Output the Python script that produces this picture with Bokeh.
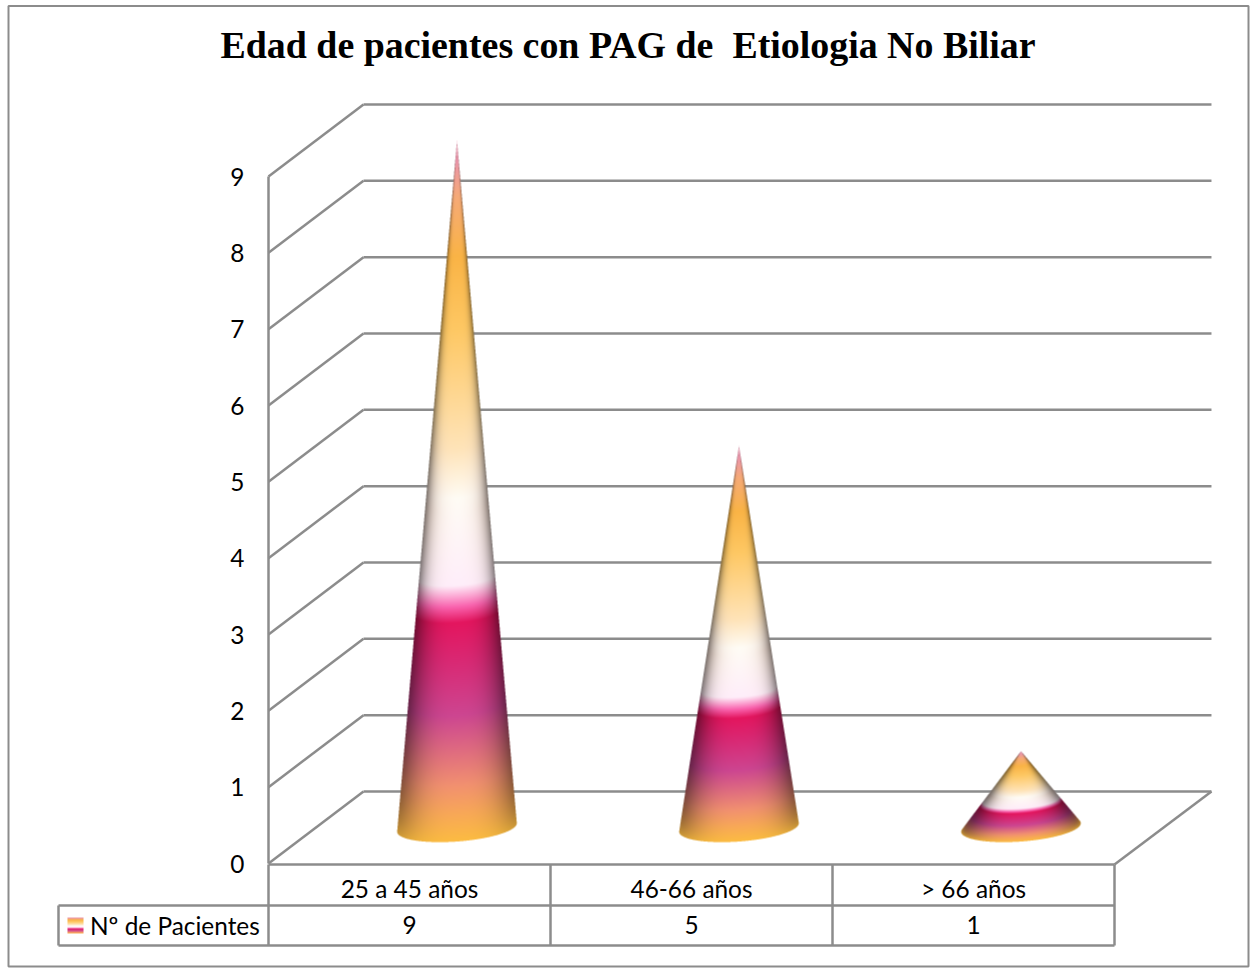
import numpy as np
from bokeh.plotting import figure
from bokeh.models import LinearAxis, FixedTicker, Range1d
from bokeh.core.properties import value
from bokeh.embed import file_html
from bokeh.resources import INLINE

TITLE = "Edad de pacientes con PAG de \u00a0Etiologia No Biliar"
CATEGORIES = ["25 a 45 años", "46-66 años", "> 66 años"]
PATIENTS = [9, 5, 1]
SERIES_NAME = "Nº de Pacientes"
Y_TICKS = list(range(10))

GRAY = "#8c8c8c"
LABEL_FONT = "Lato"
LABEL_SIZE = "24.4px"

W, H = 1259, 968
X0, Y0 = 268.0, 863.0      # page pixel of data (0, 0)
XS, YS = 282.0, 76.33      # pixels per category / per patient
DX, DY = 95.0 / XS, 72.0 / YS   # depth of the 3D box, data units
ROW1, ROW2 = (905.0 - Y0) / -YS, (945.0 - Y0) / -YS
FLOOR = (864.0 - Y0) / -YS

p = figure(width=W, height=H, output_backend="svg", toolbar_location=None,
           x_axis_type=None, y_axis_type=None,
           x_range=Range1d(-X0 / XS, (W - X0) / XS),
           y_range=Range1d((Y0 - H) / YS, Y0 / YS),
           min_border=0)
p.grid.visible = False
p.outline_line_color = None
p.background_fill_color = "white"

def xd(px): return (px - X0) / XS
def yd(py): return (Y0 - py) / YS

LW = 2.5
# outer chart border
p.quad(left=[xd(8)], right=[xd(1248)], top=[yd(5.5)], bottom=[yd(966)],
       fill_color=None, line_color=GRAY, line_width=2)

# walls of the 3D box
n_cat = len(CATEGORIES)
ys = np.array(Y_TICKS, dtype=float)
p.segment(x0=[0.0] * len(ys), y0=ys, x1=[DX] * len(ys), y1=ys + DY,
          line_color=GRAY, line_width=LW)
p.segment(x0=[DX] * len(ys), y0=ys + DY, x1=[n_cat + DX + .007] * len(ys), y1=ys + DY,
          line_color=GRAY, line_width=LW)
# floor right edge
p.segment(x0=[n_cat], y0=[FLOOR], x1=[n_cat + DX + .007], y1=[DY],
          line_color=GRAY, line_width=LW)

# data table rules
p.segment(x0=[i for i in range(n_cat + 1)], y0=[FLOOR] * (n_cat + 1),
          x1=[i for i in range(n_cat + 1)], y1=[ROW2] * (n_cat + 1),
          line_color=GRAY, line_width=LW)
p.segment(x0=[xd(58), xd(58)], y0=[ROW1, ROW2], x1=[n_cat, n_cat], y1=[ROW1, ROW2],
          line_color=GRAY, line_width=LW)
p.segment(x0=[xd(58)], y0=[ROW1], x1=[xd(58)], y1=[ROW2], line_color=GRAY, line_width=LW)

# cone gradient, base (0) to tip (1)
STOPS = [
    (0.00, (252, 188, 66)), (0.04, (248, 168, 88)), (0.08, (242, 145, 112)),
    (0.18, (205, 70, 145)), (0.26, (218, 40, 115)), (0.312, (228, 22, 95)),
    (0.335, (250, 100, 175)), (0.365, (255, 238, 250)), (0.49, (255, 252, 245)),
    (0.56, (255, 228, 185)), (0.73, (254, 200, 100)), (0.834, (250, 180, 70)),
    (0.92, (246, 170, 120)), (0.97, (236, 150, 170)), (1.00, (240, 175, 195)),
]
ST = np.array([s[0] for s in STOPS])
SC = np.array([s[1] for s in STOPS], dtype=float)

def grad(t):
    return np.stack([np.interp(t, ST, SC[:, k]) for k in range(3)], axis=-1)

A_SEMI, B_SEMI, TILT = 60.0, 14.0, np.deg2rad(-4.3)
SS = 3

def cone_image(v, i):
    cx = X0 + (i + 0.5 + DX / 2) * XS
    cy = Y0 - (DY / 2) * YS
    ax, ay = cx, cy - v * YS
    x_left, x_right = int(cx - 68), int(cx + 68)
    y_top, y_bot = int(ay - 3), int(cy + 20)
    w, h = x_right - x_left, y_bot - y_top
    xs = x_left + (np.arange(w * SS) + 0.5) / SS
    yy = y_top + (np.arange(h * SS) + 0.5) / SS
    X, Y = np.meshgrid(xs, yy)
    c, s_ = np.cos(TILT), np.sin(TILT)
    def nrm(dx, dy):
        return (c * dx + s_ * dy) / A_SEMI, (-s_ * dx + c * dy) / B_SEMI
    dp, dq = nrm(X - cx, Y - cy)
    hp, hq = nrm(ax - cx, ay - cy)
    qa = hp ** 2 + hq ** 2 - 1
    qb = 2 - 2 * (dp * hp + dq * hq)
    qc = dp ** 2 + dq ** 2 - 1
    disc = qb ** 2 - 4 * qa * qc
    ok = disc >= 0
    root = np.where(ok, (-qb + np.sqrt(np.maximum(disc, 0))) / (2 * qa), -1)
    ok &= (root >= 0) & (root <= 1)
    t = np.clip(root, 0, 1)
    u = np.clip((dp - t * hp) / np.maximum(1 - t, 1e-3), -1, 1)
    col = grad(t)
    # off-centre the light band turns a warm tan
    tan = np.array([238.0, 212.0, 198.0])
    band = np.clip(1 - np.abs(t - 0.47) / 0.14, 0, 1)[..., None] * (np.abs(u) ** 1.8)[..., None]
    col = col * (1 - 0.8 * band) + tan * 0.8 * band
    expo = 3 + 2.2 * np.clip((t - 0.31) / 0.05, 0, 1)
    shade = 1 - (0.5 * (1 - 0.6 * np.exp(-t / 0.04))) * np.abs(u) ** expo
    col = col * shade[..., None]
    a = ok.astype(float)
    col = col * a[..., None]
    def down(m):
        return m.reshape(h, SS, w, SS, *m.shape[2:]).mean(axis=(1, 3))
    alpha = down(a)
    rgb = down(col) / np.maximum(alpha[..., None], 1e-6)
    img = np.zeros((h, w, 4), dtype=np.uint8)
    img[..., :3] = np.clip(rgb, 0, 255).astype(np.uint8)
    img[..., 3] = (alpha * 255).astype(np.uint8)
    rgba = img[::-1].copy().view(np.uint32).reshape(h, w)
    return rgba, xd(x_left), yd(y_bot), w / XS, h / YS

for i, v in enumerate(PATIENTS):
    im, ix, iy, dw, dh = cone_image(float(v), i)
    p.image_rgba(image=[im], x=[ix], y=[iy], dw=[dw], dh=[dh])

# value axis and category axis
yax = LinearAxis(fixed_location=0, ticker=FixedTicker(ticks=Y_TICKS), bounds=(0, 9),
                 major_tick_in=0, major_tick_out=0, minor_tick_line_color=None,
                 major_label_standoff=24, major_label_text_font=LABEL_FONT,
                 major_label_text_font_size=LABEL_SIZE, major_label_text_color="black",
                 axis_line_color=GRAY, axis_line_width=LW)
p.add_layout(yax, "left")
centers = [i + 0.5 for i in range(n_cat)]
xax = LinearAxis(fixed_location=FLOOR, ticker=FixedTicker(ticks=centers), bounds=(0, n_cat),
                 major_label_overrides=dict(zip(centers, CATEGORIES)),
                 major_tick_in=0, major_tick_out=0, minor_tick_line_color=None,
                 major_label_standoff=9, major_label_text_font=LABEL_FONT,
                 major_label_text_font_size=LABEL_SIZE, major_label_text_color="black",
                 axis_line_color=GRAY, axis_line_width=LW)
p.add_layout(xax, "below")

# data-table values and series label
row_y = yd(924.5)
p.text(x=centers, y=[row_y] * n_cat, text=[str(v) for v in PATIENTS],
       text_font=value(LABEL_FONT), text_font_size=value(LABEL_SIZE), text_color="black",
       text_align="center", text_baseline="middle")
p.text(x=[xd(89.5)], y=[row_y], text=[SERIES_NAME],
       text_font=value(LABEL_FONT), text_font_size=value(LABEL_SIZE), text_color="black",
       text_align="left", text_baseline="middle")

# legend swatch: same gradient as the cones
sw_n = 16
sw = grad((np.arange(sw_n) + 0.5) / sw_n).astype(np.uint8)
sw_img = np.zeros((sw_n, 16, 4), dtype=np.uint8)
sw_img[..., :3] = sw[:, None, :]
sw_img[..., 3] = 255
p.image_rgba(image=[sw_img.view(np.uint32).reshape(sw_n, 16)], x=[xd(67)], y=[yd(933)],
             dw=[16 / XS], dh=[16 / YS])

# title
p.text(x=[xd(627.5)], y=[yd(44)], text=[TITLE], text_font=value("Liberation Serif"),
       text_font_style="bold", text_font_size=value("37.9px"), text_color="black",
       text_align="center", text_baseline="middle")

open("out.html", "w").write(file_html(p, INLINE))
